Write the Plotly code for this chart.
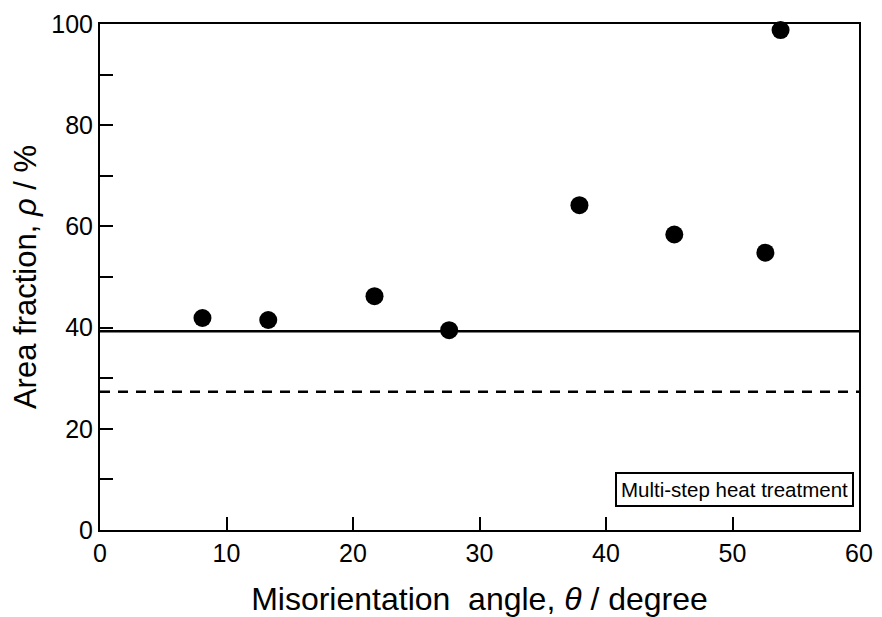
import plotly.graph_objects as go

# Data
angle_deg = [8.1, 13.3, 21.7, 27.6, 37.9, 45.4, 52.6, 53.8]
area_fraction = [41.9, 41.5, 46.2, 39.5, 64.2, 58.4, 54.8, 98.8]

ref_x = [0, 60]
solid_level = [39.3, 39.3]
dashed_level = [27.3, 27.3]

FONT = "Liberation Sans, Arial, Helvetica, sans-serif"

fig = go.Figure()
fig.add_trace(go.Scatter(x=ref_x, y=solid_level, mode="lines",
                         line=dict(color="black", width=2.5), showlegend=False,
                         hoverinfo="skip"))
fig.add_trace(go.Scatter(x=ref_x, y=dashed_level, mode="lines",
                         line=dict(color="black", width=2.5, dash="10px,8px"),
                         showlegend=False, hoverinfo="skip"))
fig.add_trace(go.Scatter(x=angle_deg, y=area_fraction, mode="markers",
                         marker=dict(color="black", size=18), showlegend=False,
                         cliponaxis=False))

fig.update_layout(
    width=882, height=617,
    margin=dict(l=100, r=23, t=24, b=87),
    paper_bgcolor="white", plot_bgcolor="white",
    font=dict(family=FONT, color="black"),
    xaxis=dict(range=[0, 60], dtick=10, tick0=0, ticks="inside", ticklen=13,
               tickwidth=2, tickcolor="black", showline=True, linewidth=2,
               linecolor="black", mirror=True, showgrid=False, zeroline=False,
               automargin=False,
               tickfont=dict(size=25, family=FONT),
               title=dict(text="Misorientation  angle, <i>θ</i> / degree",
                          font=dict(size=32, family=FONT), standoff=22)),
    yaxis=dict(range=[0, 100], dtick=20, tick0=0, ticks="inside", ticklen=13,
               tickwidth=2, tickcolor="black", showline=True, linewidth=2,
               linecolor="black", mirror=True, showgrid=False, zeroline=False,
               automargin=False,
               tickfont=dict(size=25, family=FONT),
               minor=dict(dtick=10, ticks="inside", ticklen=13, tickwidth=2,
                          tickcolor="black", showgrid=False),
               title=dict(text="Area fraction, <i>ρ</i> / %",
                          font=dict(size=31, family=FONT), standoff=5)),
    annotations=[dict(text="Multi-step heat treatment", xref="paper", yref="paper",
                      x=0.9934, y=0.08, xanchor="right", yanchor="middle",
                      showarrow=False, font=dict(size=20.5, family=FONT),
                      bordercolor="black", borderwidth=2, borderpad=4,
                      bgcolor="white")],
)

fig.write_html("out.html")
